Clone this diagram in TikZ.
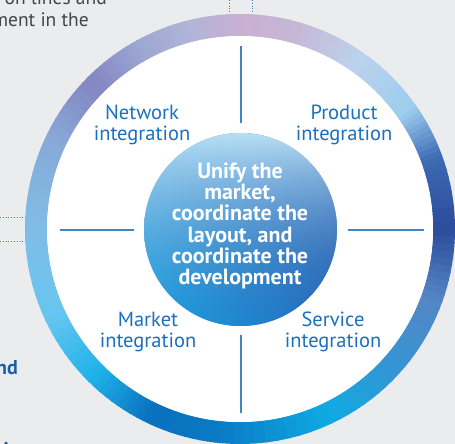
\documentclass[tikz,border=0pt]{standalone}
\usepackage{fontspec}
\setmainfont{PT Sans}
\usetikzlibrary{fadings}
\definecolor{bg}{HTML}{EBECEE}
\definecolor{lbl}{HTML}{1A70BE}
\definecolor{rule}{HTML}{3D85C4}
\definecolor{grytxt}{HTML}{454545}
\definecolor{bluetxt}{HTML}{1A5FAA}
\definecolor{dotc}{HTML}{3A7EC0}
\definecolor{coreL}{HTML}{7896CC}
\definecolor{coreR}{HTML}{264C9C}
\definecolor{coreTop}{HTML}{B8E0F6}
\definecolor{coreBL}{HTML}{18A2E2}
\definecolor{coreBR}{HTML}{266CBE}
% ring colour stops (counter-clockwise from the right)
\definecolor{r0}{HTML}{2B4C9B}
\definecolor{r20}{HTML}{3E6AB4}
\definecolor{r35}{HTML}{9CCDEE}
\definecolor{r55}{HTML}{BCD2EC}
\definecolor{r75}{HTML}{C6B6D6}
\definecolor{r90}{HTML}{C8B0D2}
\definecolor{r105}{HTML}{B0B4D8}
\definecolor{r120}{HTML}{9AA6D2}
\definecolor{r135}{HTML}{8486C2}
\definecolor{r155}{HTML}{87A9D8}
\definecolor{r180}{HTML}{80BDE6}
\definecolor{r205}{HTML}{66C6F0}
\definecolor{r225}{HTML}{1FB2EA}
\definecolor{r245}{HTML}{0A6FBD}
\definecolor{r265}{HTML}{0A7CC6}
\definecolor{r295}{HTML}{0EAAE2}
\definecolor{r320}{HTML}{3893D2}
\definecolor{r340}{HTML}{5586C6}
\tikzfading[name=topfade, top color=transparent!0, middle color=transparent!100, bottom color=transparent!100]
\tikzfading[name=botfade, top color=transparent!100, middle color=transparent!100, bottom color=transparent!0]
\tikzset{
  label/.style={text=lbl, font=\fontsize{20.5}{21}\selectfont, align=center},
  corelabel/.style={text=white, font=\bfseries\fontsize{22}{21.3}\selectfont, align=center},
  crossline/.style={draw=rule, line width=1.8pt},
  dotline/.style={draw=dotc, line width=0.8pt, dotted},
}
\begin{document}
\begin{tikzpicture}[x=1pt,y=1pt]
\useasboundingbox (0,0) rectangle (455,444);
\fill[bg] (0,0) rectangle (455,444);
% side texts (cropped)
\node[anchor=base east, text=grytxt, font=\fontsize{19.5}{23}\selectfont, inner sep=0] (t1) at (107,439) {on lines and};
\node[anchor=base east, text=grytxt, font=\fontsize{19.5}{23}\selectfont, inner sep=0] (t2) at (89,417) {ment in the};
\node[anchor=base east, text=bluetxt, font=\bfseries\fontsize{20}{23}\selectfont, inner sep=0] (t3) at (18,69) {and};
\node[anchor=base west, text=bluetxt, font=\bfseries\fontsize{20}{23}\selectfont, inner sep=0] (t4) at (0,-13) {A};
% dotted leaders
\coordinate (dl1a) at (0,227); \coordinate (dl1b) at (27,227);
\coordinate (dl2a) at (0,203); \coordinate (dl2b) at (27,203);
\coordinate (dt1a) at (229,444); \coordinate (dt1b) at (229,430);
\coordinate (dt2a) at (252,444); \coordinate (dt2b) at (252,430);
\draw[dotline] (dl1a) -- (dl1b);
\draw[dotline] (dl2a) -- (dl2b);
\draw[dotline] (dt1a) -- (dt1b);
\draw[dotline] (dt2a) -- (dt2b);
% gradient ring
\def\Ro{215}\def\Ri{193}
\foreach \sa/\ea/\ca/\cb in {0/20/r0/r20, 20/35/r20/r35, 35/55/r35/r55, 55/75/r55/r75, 75/90/r75/r90, 90/105/r90/r105, 105/120/r105/r120, 120/135/r120/r135, 135/155/r135/r155, 155/180/r155/r180, 180/205/r180/r205, 205/225/r205/r225, 225/245/r225/r245, 245/265/r245/r265, 265/295/r265/r295, 295/320/r295/r320, 320/340/r320/r340, 340/360/r340/r0}{
  \foreach \k in {0,...,9}{
    \pgfmathsetmacro\tpc{(\k+0.5)*10}
    \pgfmathsetmacro\angA{\sa+(\ea-\sa)*\k/10}
    \pgfmathsetmacro\angB{\sa+(\ea-\sa)*(\k+1)/10+0.4}
    \colorlet{segc}{\cb!\tpc!\ca}
    \fill[segc, shift={(240,215)}] (\angA:\Ro) arc[start angle=\angA, end angle=\angB, radius=\Ro] -- (\angB:\Ri) arc[start angle=\angB, end angle=\angA, radius=\Ri] -- cycle;
  }
}
\fill[white] (240,215) circle[radius=\Ri];
% centre disc
\coordinate (O) at (240.5,214.5);
\shade[left color=coreL, right color=coreR] (O) circle[radius=96.5];
\fill[coreTop, path fading=topfade] (O) circle[radius=96.5];
\shade[left color=coreBL, right color=coreBR, path fading=botfade] (O) circle[radius=96.5];
\node[corelabel] (core) at (240,218) {Unify the\\market,\\coordinate the\\layout, and\\coordinate the\\development};
% cross lines
\coordinate (vt1) at (241,398); \coordinate (vt2) at (241,321);
\coordinate (vb1) at (241,109); \coordinate (vb2) at (241,31);
\coordinate (hl1) at (60,214); \coordinate (hl2) at (134,214);
\coordinate (hr1) at (348,214); \coordinate (hr2) at (424,214);
\draw[crossline] (vt1) -- (vt2);
\draw[crossline] (vb1) -- (vb2);
\draw[crossline] (hl1) -- (hl2);
\draw[crossline] (hr1) -- (hr2);
% quadrant labels
\node[label] (net) at (142,319) {Network\\integration};
\node[label] (prod) at (344,319) {Product\\integration};
\node[label] (mkt) at (148,112) {Market\\integration};
\node[label] (svc) at (333,112) {Service\\integration};
\end{tikzpicture}
\end{document}
